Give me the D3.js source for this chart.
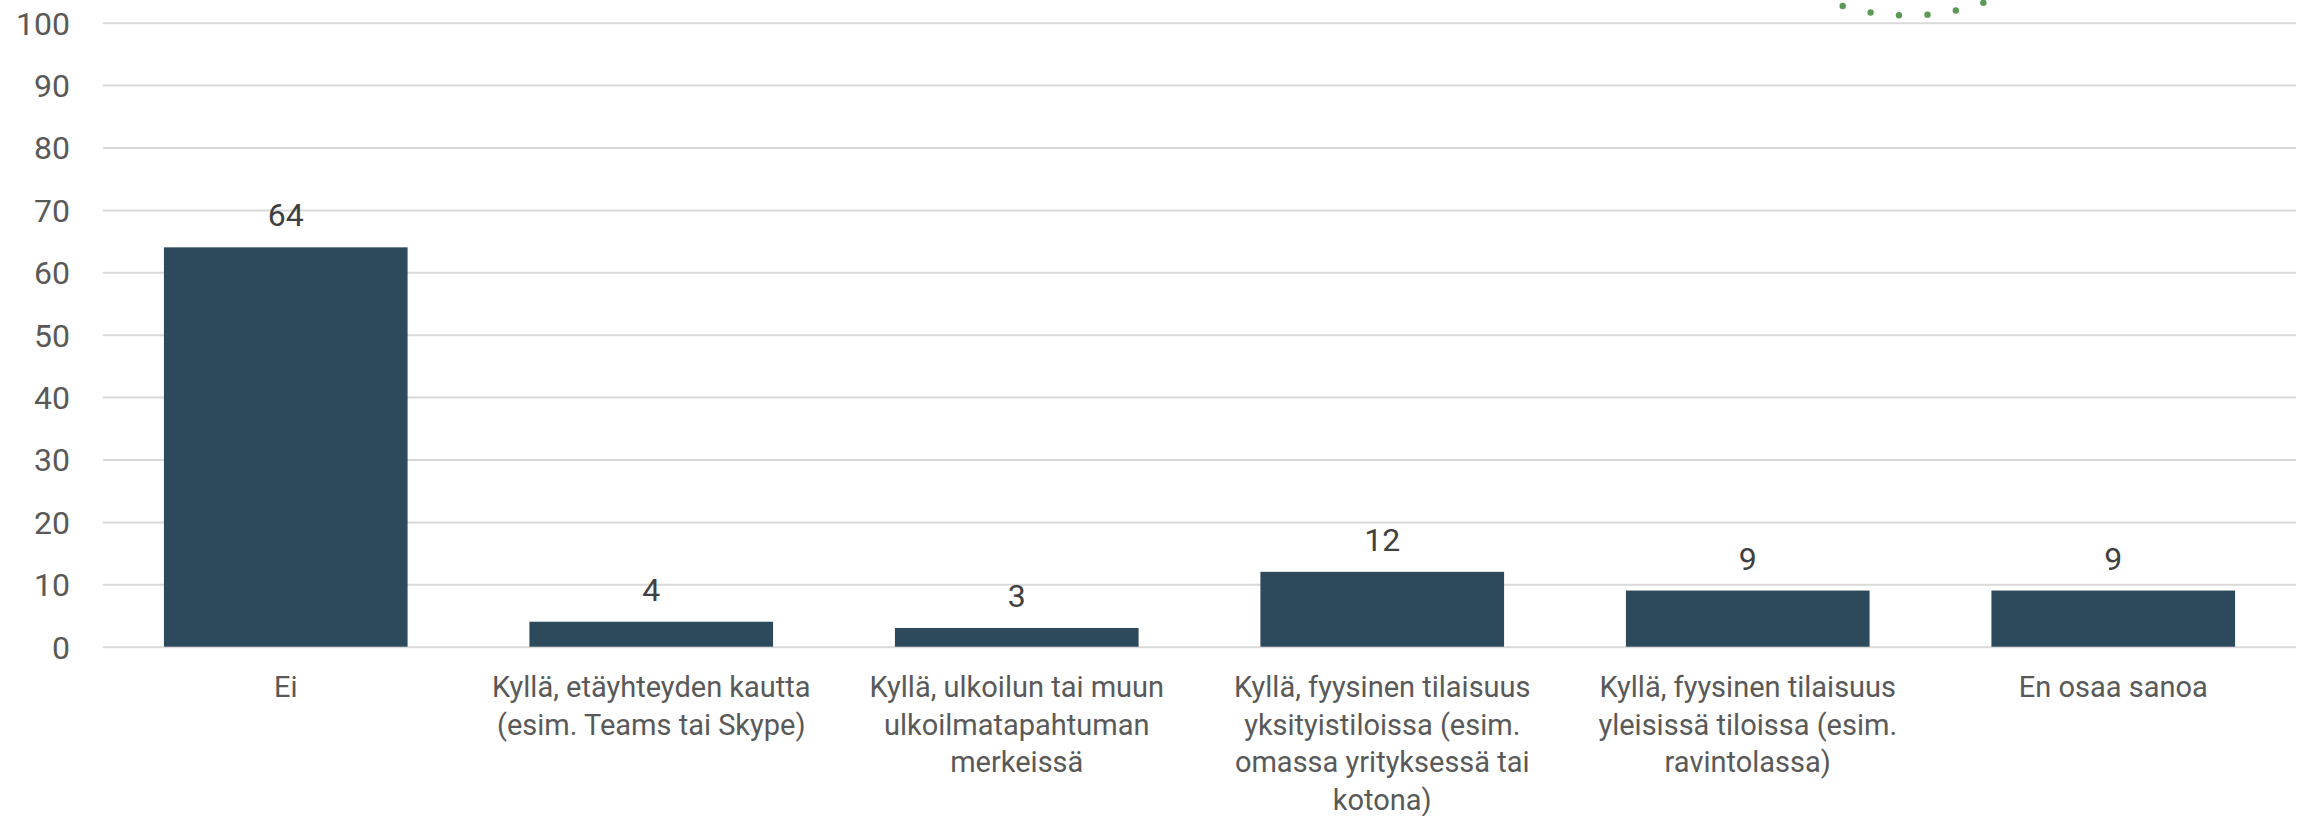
<!DOCTYPE html>
<html><head><meta charset="utf-8">
<script src="https://cdn.jsdelivr.net/npm/d3@7"></script>
<style>html,body{margin:0;padding:0;background:#fff;}</style>
</head><body>
<svg id="chart" width="2303" height="816"></svg>
<script>
const categories = [
  ["Ei"],
  ["Kyllä, etäyhteyden kautta", "(esim. Teams tai Skype)"],
  ["Kyllä, ulkoilun tai muun", "ulkoilmatapahtuman", "merkeissä"],
  ["Kyllä, fyysinen tilaisuus", "yksityistiloissa (esim.", "omassa yrityksessä tai", "kotona)"],
  ["Kyllä, fyysinen tilaisuus", "yleisissä tiloissa (esim.", "ravintolassa)"],
  ["En osaa sanoa"]
];
const values = [64, 4, 3, 12, 9, 9];
const yTicks = [0, 10, 20, 30, 40, 50, 60, 70, 80, 90, 100];

(function () {
const FONT = "Roboto, 'Noto Sans', sans-serif";
const svg = d3.select("#chart");
const mLeft = 103, mRight = 2296, mTop = 22.7, mBottom = 646.7;

const ids = categories.map((c, i) => i);
const x = d3.scaleBand().domain(ids).range([mLeft, mRight]).paddingInner(1/3).paddingOuter(1/6);
const y = d3.scaleLinear().domain([0, 100]).range([mBottom, mTop]);

// gridlines
const yAxis = d3.axisLeft(y).tickValues(yTicks).tickSize(-(mRight - mLeft)).tickPadding(33).tickFormat(d3.format("d"));
const gAx = svg.append("g").attr("transform", `translate(${mLeft},0)`).call(yAxis);
gAx.select(".domain").remove();
gAx.selectAll(".tick line").attr("stroke", "#d9d9d9").attr("stroke-width", 2);
gAx.selectAll(".tick text").attr("fill", "#595959").attr("font-family", FONT).attr("font-size", 32).attr("dy", "0.355em");

// bars
svg.append("g").selectAll("rect").data(values).join("rect")
  .attr("x", (d, i) => x(i)).attr("width", x.bandwidth())
  .attr("y", d => y(d)).attr("height", d => y(0) - y(d))
  .attr("fill", "#2d4a5c");

// data labels
svg.append("g").selectAll("text").data(values).join("text")
  .attr("x", (d, i) => x(i) + x.bandwidth() / 2)
  .attr("y", d => y(d) - 21)
  .attr("text-anchor", "middle").attr("font-family", FONT).attr("font-size", 32)
  .attr("fill", "#404040").text(d => d);

// category labels
const xAxis = d3.axisBottom(x).tickSize(0).tickFormat("");
const gX = svg.append("g").attr("transform", `translate(0,${mBottom})`).call(xAxis);
gX.select(".domain").remove();
gX.selectAll(".tick").each(function(d) {
  const t = d3.select(this).append("text")
    .attr("text-anchor", "middle").attr("font-family", FONT).attr("font-size", 29)
    .attr("fill", "#595959");
  categories[d].forEach((line, j) => {
    t.append("tspan").attr("x", 0).attr("y", 50.3 + j * 37.7).text(line);
  });
});

// decorative dotted arc (partly outside the top edge)
const cx = 1908, cy = -214.5, r = 230, step = 0.1243, phase = 1.61;
const angles = d3.range(-25, 26).map(k => phase + k * step);
svg.append("g").selectAll("circle").data(angles).join("circle")
  .attr("cx", a => cx + r * Math.cos(a)).attr("cy", a => cy + r * Math.sin(a))
  .attr("r", 3.2).attr("fill", "#5a9a55");
})();
</script>
</body></html>
